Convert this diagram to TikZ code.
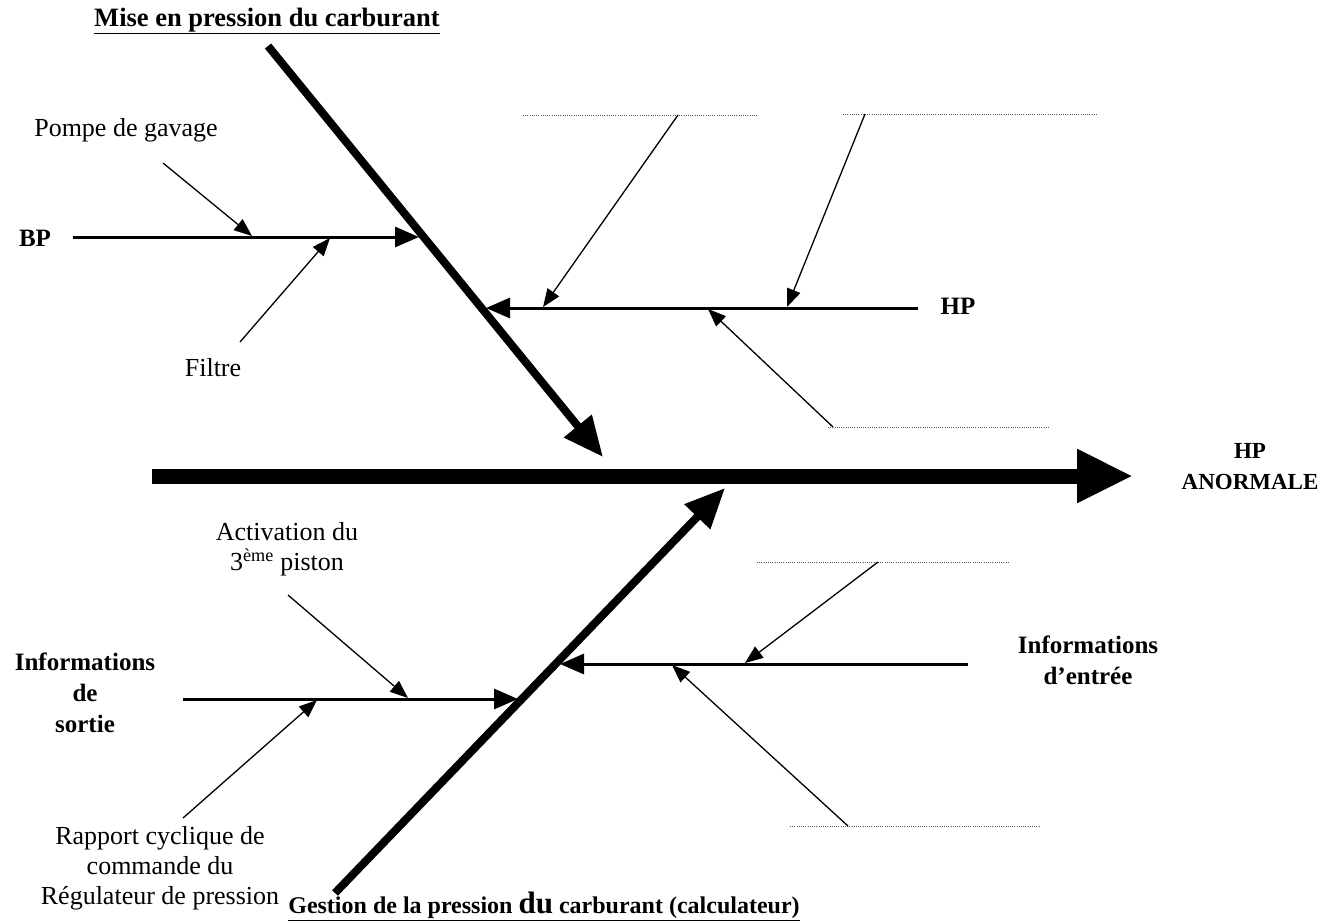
\documentclass[tikz,border=0pt]{standalone}
\usepackage{fontspec}
\setmainfont{Liberation Serif}
\usetikzlibrary{arrows.meta}
\begin{document}
\begin{tikzpicture}[x=1pt,y=-1pt,
  lbl/.style={font=\fontsize{26}{30}\selectfont, align=center, inner sep=0pt},
  blbl/.style={font=\fontsize{25}{31}\selectfont\bfseries, align=center, inner sep=0pt},
  ttl/.style={font=\fontsize{24}{28}\selectfont\bfseries, inner sep=0pt},
  spine/.style={line width=15pt, -{Triangle[length=56pt,width=50pt]}},
  bone/.style={line width=8pt, -{Triangle[length=40pt,width=34pt]}},
  branch/.style={line width=3pt, -{Triangle[length=24pt,width=20pt]}},
  cause/.style={line width=1.3pt, -{Triangle[length=18pt,width=14pt]}},
  dots/.style={line width=0.8pt, dash pattern=on 1pt off 1.2pt, black!65}]
\useasboundingbox (0,0) rectangle (1321,922);

% coordinates
\coordinate (spL) at (152,476); \coordinate (spR) at (1133,476);
\coordinate (ubT) at (268,46);  \coordinate (ubH) at (603,457);
\coordinate (lbB) at (335,893); \coordinate (lbH) at (725,488);
\coordinate (bp0) at (73,237);  \coordinate (bp1) at (419,237);
\coordinate (hp0) at (918,308); \coordinate (hp1) at (486,308);
\coordinate (so0) at (183,699); \coordinate (so1) at (518,699);
\coordinate (en0) at (968,664); \coordinate (en1) at (560,664);
\coordinate (pg0) at (163,163); \coordinate (pg1) at (252,236);
\coordinate (fi0) at (240,342); \coordinate (fi1) at (330,238);
\coordinate (ca0) at (678,115); \coordinate (ca1) at (543,307);
\coordinate (cb0) at (865,114); \coordinate (cb1) at (787,307);
\coordinate (cc0) at (833,427); \coordinate (cc1) at (708,309);
\coordinate (ac0) at (288,595); \coordinate (ac1) at (408,698);
\coordinate (ra0) at (183,818); \coordinate (ra1) at (317,700);
\coordinate (cd0) at (878,562); \coordinate (cd1) at (745,663);
\coordinate (ce0) at (848,826); \coordinate (ce1) at (672,665);
\coordinate (da0) at (523,115); \coordinate (da1) at (757,115);
\coordinate (db0) at (843,114); \coordinate (db1) at (1098,114);
\coordinate (dc0) at (828,427); \coordinate (dc1) at (1050,427);
\coordinate (dd0) at (757,562); \coordinate (dd1) at (1010,562);
\coordinate (de0) at (790,826); \coordinate (de1) at (1040,826);

% dotted blank lines
\draw[dots] (da0) -- (da1);
\draw[dots] (db0) -- (db1);
\draw[dots] (dc0) -- (dc1);
\draw[dots] (dd0) -- (dd1);
\draw[dots] (de0) -- (de1);

% spine and bones
\draw[spine] (spL) -- (spR);
\draw[bone] (ubT) -- (ubH);
\draw[bone] (lbB) -- (lbH);

% branches
\draw[branch] (bp0) -- (bp1);
\draw[branch] (hp0) -- (hp1);
\draw[branch] (so0) -- (so1);
\draw[branch] (en0) -- (en1);

% causes
\draw[cause] (pg0) -- (pg1);
\draw[cause] (fi0) -- (fi1);
\draw[cause] (ca0) -- (ca1);
\draw[cause] (cb0) -- (cb1);
\draw[cause] (cc0) -- (cc1);
\draw[cause] (ac0) -- (ac1);
\draw[cause] (ra0) -- (ra1);
\draw[cause] (cd0) -- (cd1);
\draw[cause] (ce0) -- (ce1);

% labels
\node[ttl, font=\fontsize{26.5}{30}\selectfont\bfseries] (t1) at (267,21) {\underline{Mise en pression du carburant}};
\node[ttl] (t2) at (544,906) {\underline{Gestion de la pression {\fontsize{31}{31}\selectfont du} carburant (calculateur)}};
\node[blbl] (lBP) at (35,238) {BP};
\node[blbl] (lHP) at (958,306) {HP};
\node[blbl, font=\fontsize{23}{31}\selectfont\bfseries] (lHPA) at (1250,467) {HP\\ANORMALE};
\node[blbl] (lsor) at (85,693) {Informations\\de\\sortie};
\node[blbl] (lent) at (1088,660) {Informations\\d’entrée};
\node[lbl] (lpg) at (126,130) {Pompe de gavage};
\node[lbl] (lfi) at (213,368) {Filtre};
\node[lbl] (lac) at (287,549) {Activation du\\3\textsuperscript{ème} piston};
\node[lbl] (lra) at (160,868) {Rapport cyclique de\\commande du\\Régulateur de pression};
\end{tikzpicture}
\end{document}
